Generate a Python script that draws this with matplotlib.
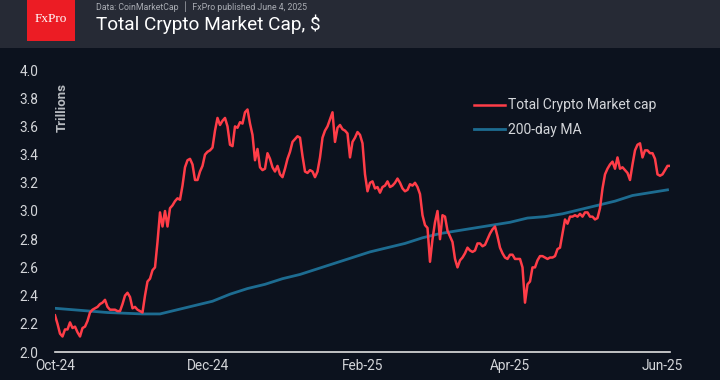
#Total crypto market cap vs its 200-day moving average (FxPro style)
import numpy as np
import pandas as pd
import matplotlib
matplotlib.use('Agg')
import matplotlib.pyplot as plt
import matplotlib.dates as mdates
from matplotlib.patches import Rectangle

plt.rcParams['font.family'] = ['Roboto', 'DejaVu Sans']

#Daily total market cap, trillions USD, from Oct 1 2024
cap_start = '2024-10-01'
market_cap = [
    2.26, 2.20, 2.13, 2.11, 2.16, 2.16, 2.21, 2.17, 2.18, 2.14,
    2.11, 2.17, 2.18, 2.22, 2.28, 2.30, 2.31, 2.32, 2.34, 2.35,
    2.37, 2.32, 2.30, 2.30, 2.30, 2.29, 2.29, 2.34, 2.40, 2.42,
    2.39, 2.31, 2.32, 2.30, 2.29, 2.28, 2.40, 2.50, 2.52, 2.58,
    2.60, 2.78, 2.99, 2.89, 3.00, 2.89, 3.02, 3.04, 3.07, 3.09,
    3.08, 3.18, 3.31, 3.36, 3.37, 3.33, 3.22, 3.22, 3.28, 3.32,
    3.40, 3.42, 3.43, 3.45, 3.57, 3.66, 3.61, 3.64, 3.66, 3.60,
    3.47, 3.46, 3.60, 3.59, 3.63, 3.62, 3.70, 3.72, 3.62, 3.54,
    3.36, 3.44, 3.31, 3.29, 3.30, 3.41, 3.37, 3.31, 3.28, 3.32,
    3.26, 3.24, 3.30, 3.37, 3.42, 3.49, 3.51, 3.53, 3.52, 3.39,
    3.28, 3.27, 3.29, 3.28, 3.24, 3.28, 3.38, 3.52, 3.57, 3.60,
    3.65, 3.70, 3.49, 3.59, 3.61, 3.58, 3.57, 3.55, 3.38, 3.49,
    3.52, 3.56, 3.54, 3.48, 3.26, 3.14, 3.20, 3.21, 3.16, 3.17,
    3.13, 3.17, 3.18, 3.21, 3.17, 3.18, 3.20, 3.23, 3.20, 3.16,
    3.14, 3.15, 3.19, 3.18, 3.20, 3.17, 3.12, 2.97, 2.90, 2.88,
    2.64, 2.80, 2.92, 3.00, 2.80, 2.97, 2.96, 2.86, 2.82, 2.78,
    2.66, 2.60, 2.65, 2.67, 2.70, 2.74, 2.72, 2.71, 2.72, 2.77,
    2.77, 2.75, 2.76, 2.80, 2.84, 2.87, 2.89, 2.82, 2.74, 2.70,
    2.67, 2.66, 2.69, 2.69, 2.66, 2.66, 2.66, 2.60, 2.35, 2.48,
    2.50, 2.60, 2.60, 2.65, 2.68, 2.68, 2.67, 2.66, 2.67, 2.67,
    2.68, 2.73, 2.74, 2.84, 2.94, 2.91, 2.96, 2.96, 2.97, 2.96,
    2.98, 2.96, 2.99, 2.99, 2.96, 2.96, 2.94, 2.95, 3.02, 3.16,
    3.26, 3.30, 3.33, 3.35, 3.30, 3.38, 3.30, 3.31, 3.29, 3.27,
    3.22, 3.33, 3.43, 3.47, 3.48, 3.38, 3.43, 3.43, 3.41, 3.41,
    3.37, 3.26, 3.25, 3.26, 3.29, 3.32, 3.32,
]

#200-day moving average, read weekly
ma_200 = [
    2.31, 2.30, 2.29, 2.28, 2.275, 2.27, 2.27, 2.30, 2.33, 2.36,
    2.41, 2.45, 2.48, 2.52, 2.55, 2.59, 2.63, 2.67, 2.71, 2.74,
    2.77, 2.81, 2.84, 2.86, 2.88, 2.90, 2.92, 2.95, 2.96, 2.98,
    3.01, 3.04, 3.07, 3.11, 3.13, 3.15,
]

y_ticks = [2.0, 2.2, 2.4, 2.6, 2.8, 3.0, 3.2, 3.4, 3.6, 3.8, 4.0]
x_ticks = ['2024-10-01', '2024-12-01', '2025-02-01', '2025-04-01', '2025-06-01']

cap_dates = pd.date_range(cap_start, periods=len(market_cap), freq='D')
ma_dates = pd.date_range(cap_start, periods=len(ma_200), freq='7D')

bg = '#0c121e'
header = '#262a35'
txt = '#d4d6da'

fig = plt.figure(figsize=(7.2, 3.8), dpi=100, facecolor=bg)

#header band and logo
fig.patches.append(Rectangle((0, 1 - 48/380), 1, 48/380, transform=fig.transFigure,
                             facecolor=header, edgecolor='none', zorder=0))
fig.patches.append(Rectangle((27/720, 1 - 41/380), 48/720, 41/380, transform=fig.transFigure,
                             facecolor='#ec1c24', edgecolor='none', zorder=1))
fig.text(51/720, 1 - 19/380, 'FxPro', color='white', fontsize=9.5, family='Liberation Serif',
         ha='center', va='center', zorder=2)
fig.text(96/720, 1 - 7/380, 'Data: CoinMarketCap  \u2502  FxPro published June 4, 2025',
         color='#a9acb3', fontsize=6.3, ha='left', va='center')
fig.text(96/720, 1 - 24/380, 'Total Crypto Market Cap, $', color='white', fontsize=13.7,
         ha='left', va='center')

ax = fig.add_axes([55/720, 1 - 352/380, 615/720, 282/380])
ax.set_facecolor(bg)

ax.plot(cap_dates, market_cap, color='#ff3d48', lw=1.8, label='Total Crypto Market cap', zorder=3)
ax.plot(ma_dates, ma_200, color='#1d6c91', lw=2.0, label='200-day MA', zorder=2)

ax.set_ylim(2.0, 4.0)
ax.set_xlim(cap_dates[0], cap_dates[-1])
ax.set_yticks(y_ticks)
ax.set_yticklabels(['%.1f' % v for v in y_ticks])
ax.set_xticks(pd.to_datetime(x_ticks))
ax.xaxis.set_major_formatter(mdates.DateFormatter('%b-%y'))
ax.tick_params(axis='both', length=0, colors=txt, labelsize=9.8)
ax.tick_params(axis='y', pad=12)
ax.tick_params(axis='x', pad=5)

for s in ['top', 'right', 'left']:
    ax.spines[s].set_visible(False)
ax.spines['bottom'].set_color('#e0e0e0')
ax.spines['bottom'].set_linewidth(1.2)

fig.text(62/720, 1 - 107/380, 'Trillions', rotation=90, color='#b8bbc0', fontsize=9.5,
         fontweight='bold', ha='center', va='center')

leg = ax.legend(loc='upper left', bbox_to_anchor=(406/615, 1 - 16/282), frameon=False,
                fontsize=10, handlelength=2.3, handletextpad=0.15, labelspacing=0.75)
for t in leg.get_texts():
    t.set_color(txt)

fig.savefig('out.png', dpi=100, facecolor=bg)
